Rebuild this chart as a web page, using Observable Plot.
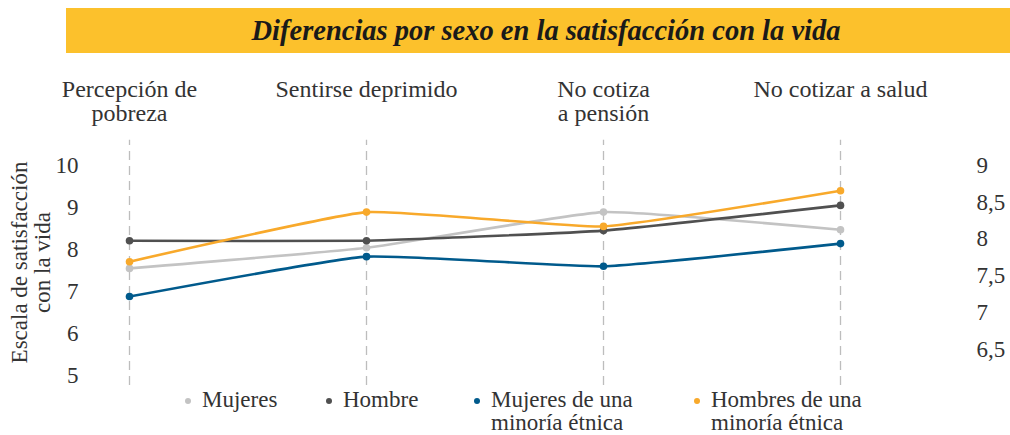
<!DOCTYPE html>
<html>
<head>
<meta charset="utf-8">
<script src="https://cdn.jsdelivr.net/npm/d3@7"></script>
<script src="https://cdn.jsdelivr.net/npm/@observablehq/plot@0.6"></script>
<style>
  body { margin: 0; background: #fff; }
  #wrap { position: relative; width: 1010px; height: 435px; overflow: hidden; font-family: "Liberation Serif", serif; color: #333; }
  #title { position: absolute; left: 66px; top: 8px; width: 944px; height: 45px; background: #FCC12C;
           font-family: "Liberation Serif", serif; font-weight: bold; font-style: italic; font-size: 28.5px;
           line-height: 45px; text-align: center; color: #1a1a1a; box-sizing: border-box; padding-left: 16px; }
  .leg { position: absolute; top: 388px; font-size: 23px; line-height: 23px; white-space: pre-line; color: #333; }
  .leg .dot { position: absolute; width: 6px; height: 6px; border-radius: 50%; top: 10px; }
</style>
</head>
<body>
<div id="wrap">
  <div id="chart"></div>
  <div id="title">Diferencias por sexo en la satisfacción con la vida</div>
  <div id="legend"></div>
</div>
<script>
// ---- data ----
const categories = ["Percepción de\npobreza", "Sentirse deprimido", "No cotiza\na pensión", "No cotizar a salud"];
const seriesNames = ["Mujeres", "Hombre", "Mujeres de una minoría étnica", "Hombres de una minoría étnica"];
const legendLabels = ["Mujeres", "Hombre", "Mujeres de una\nminoría étnica", "Hombres de una\nminoría étnica"];
const mujeres        = [7.55, 8.04, 8.89, 8.47];
const hombre         = [8.21, 8.21, 8.45, 9.05];
const mujeresMinoria = [6.88, 7.83, 7.60, 8.14];
const hombresMinoria = [7.71, 8.89, 8.55, 9.40];
const leftTicks  = [5, 6, 7, 8, 9, 10];
const rightTicks = [6.5, 7, 7.5, 8, 8.5, 9];
const yTitle = "Escala de satisfacción\ncon la vida";
const colors = ["#C3C3C3", "#505050", "#005A8C", "#F8A92B"];

// ---- build table ----
const valuesBySeries = [mujeres, hombre, mujeresMinoria, hombresMinoria];
const rows = [];
valuesBySeries.forEach((vals, s) => vals.forEach((v, i) => rows.push({cat: categories[i], value: v, series: seriesNames[s]})));

// right axis: secondary scale mapped onto the primary one (9 ↔ 10, 1 unit ↔ 1.75 units)
const toLeft = r => 10 - (9 - r) * 1.75;
const toRight = v => Math.round((9 - (10 - v) / 1.75) * 10) / 10;

const chart = Plot.plot({
  width: 1010,
  height: 435,
  marginLeft: 128,
  marginRight: 170,
  marginTop: 165,
  marginBottom: 60,
  style: {fontFamily: "Liberation Serif, serif", fontSize: "23px", color: "#333", background: "white", overflow: "visible"},
  x: {type: "point", domain: categories, padding: 0, axis: null},
  y: {domain: [5, 10], axis: null},
  color: {domain: seriesNames, range: colors},
  marks: [
    Plot.ruleX(categories, {y1: 4.76, y2: 10.6, stroke: "#BDBDBD", strokeWidth: 1.3, strokeDasharray: "9,6"}),
    Plot.axisY(leftTicks, {anchor: "left", label: null, tickSize: 0, tickPadding: 50, fontSize: 23, fill: "#333"}),
    Plot.axisY(rightTicks.map(toLeft), {anchor: "right", label: null, tickSize: 0, tickPadding: 136, fontSize: 23, fill: "#333",
      textAnchor: "start", tickFormat: v => String(toRight(v)).replace(".", ",")}),
    Plot.text(categories, {x: d => d, text: d => d, frameAnchor: "top", lineAnchor: "top", dy: -86, fontSize: 24, fill: "#333", lineHeight: 1.0}),
    Plot.text([yTitle], {text: d => d, frameAnchor: "left", textAnchor: "middle", rotate: -90, dx: -97, dy: -8, fontSize: 23, fill: "#333", lineHeight: 1.0}),
    Plot.line(rows, {x: "cat", y: "value", z: "series", stroke: "series", strokeWidth: 2.6, curve: "cardinal", tension: 0.6}),
    Plot.dot(rows, {x: "cat", y: "value", fill: "series", r: 3.8})
  ]
});
document.getElementById("chart").appendChild(chart);

// ---- legend ----
const legendLefts = [202, 343, 491, 711];
const legend = document.getElementById("legend");
legendLabels.forEach((lab, i) => {
  const item = document.createElement("div");
  item.className = "leg";
  item.style.left = legendLefts[i] + "px";
  item.textContent = lab;
  const dot = document.createElement("span");
  dot.className = "dot";
  dot.style.background = colors[i];
  dot.style.left = "-17px";
  item.appendChild(dot);
  legend.appendChild(item);
});
</script>
</body>
</html>
